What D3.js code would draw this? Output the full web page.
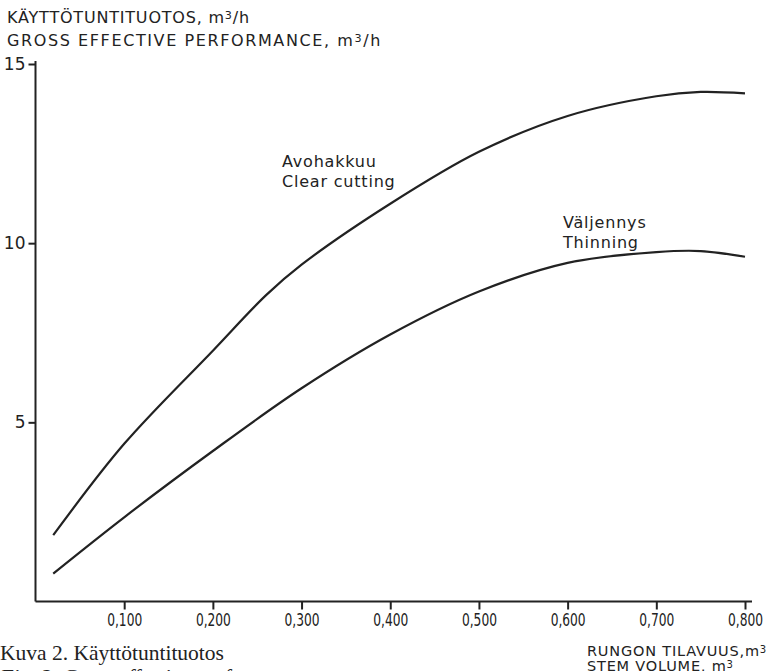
<!DOCTYPE html>
<html>
<head>
<meta charset="utf-8">
<script src="https://cdn.jsdelivr.net/npm/d3@7"></script>
<style>
  body { margin: 0; background: #fff; }
  svg text { fill: #222; }
  .letter { font-family: "DejaVu Sans", sans-serif; }
  .serif { font-family: "Liberation Serif", serif; }
</style>
</head>
<body>
<div id="chart"></div>
<script>
// Stem volume (m3) and gross effective performance (m3/h)
const stemVolume = [0.02, 0.1, 0.2, 0.26, 0.3, 0.4, 0.5, 0.6, 0.7, 0.75, 0.8];
const clearCutting = [1.85, 4.4, 7.0, 8.55, 9.4, 11.1, 12.55, 13.55, 14.1, 14.22, 14.18];
const thinningVolume = [0.02, 0.1, 0.2, 0.3, 0.4, 0.5, 0.6, 0.7, 0.75, 0.8];
const thinning = [0.78, 2.35, 4.2, 5.95, 7.45, 8.65, 9.45, 9.75, 9.78, 9.62];

const xTicks = [0.1, 0.2, 0.3, 0.4, 0.5, 0.6, 0.7, 0.8];
const yTicks = [5, 10, 15];

const width = 767, height = 671;

const svg = d3.select("#chart")
    .append("svg")
    .attr("width", width)
    .attr("height", height);

const x = d3.scaleLinear().domain([0, 0.8]).range([35.5, 745]);
const y = d3.scaleLinear().domain([0, 15]).range([601.5, 64]);

// Axes
const xAxis = d3.axisBottom(x)
    .tickValues(xTicks)
    .tickSize(8)
    .tickSizeOuter(0)
    .tickFormat(d => d3.format(".3f")(d).replace(".", ","));

const gx = svg.append("g")
    .attr("transform", `translate(0,${y(0)})`)
    .call(xAxis);
gx.select(".domain").attr("d", `M${x(0)},0H752`);

const yAxis = d3.axisLeft(y)
    .tickValues(yTicks)
    .tickSize(7)
    .tickSizeOuter(0);

const gy = svg.append("g")
    .attr("transform", `translate(${x(0)},0)`)
    .call(yAxis);
gy.select(".domain").attr("d", `M0,${y(15) - 3}V${y(0)}`);

svg.selectAll(".domain, .tick line")
    .attr("stroke", "#222")
    .attr("stroke-width", 2);

// condensed stencil-like tick numbers
gx.selectAll(".tick text")
    .attr("class", "letter")
    .attr("dy", "0.76em")
    .attr("textLength", 35)
    .attr("lengthAdjust", "spacingAndGlyphs")
    .style("font-size", "18px");
gy.selectAll(".tick text")
    .attr("class", "letter")
    .attr("dx", "0px")
    .style("font-size", "17px");

// Curves
const line = d3.line()
    .x(d => x(d[0]))
    .y(d => y(d[1]))
    .curve(d3.curveCatmullRom.alpha(0.5));

svg.append("path")
    .datum(d3.zip(stemVolume, clearCutting))
    .attr("d", line)
    .attr("fill", "none")
    .attr("stroke", "#222")
    .attr("stroke-width", 2.2);

svg.append("path")
    .datum(d3.zip(thinningVolume, thinning))
    .attr("d", line)
    .attr("fill", "none")
    .attr("stroke", "#222")
    .attr("stroke-width", 2.2);

// Texts
function label(txt, px, py, size, spacing) {
    return svg.append("text")
        .attr("class", "letter")
        .attr("x", px)
        .attr("y", py)
        .style("font-size", size + "px")
        .style("letter-spacing", (spacing || 0) + "px")
        .html(txt);
}

const sup = '<tspan baseline-shift="35%" font-size="70%">3</tspan>';

label("KÄYTTÖTUNTITUOTOS, m" + sup + "/h", 7, 23, 16, 0.8);
label("GROSS EFFECTIVE PERFORMANCE, m" + sup + "/h", 7, 46, 16, 1.6);

label("Avohakkuu", 282, 167, 16, 0.8);
label("Clear cutting", 282, 187, 16, 0.8);
label("Väljennys", 563, 228, 16, 0.8);
label("Thinning", 563, 248, 16, 0.8);

label("RUNGON TILAVUUS,m" + sup, 587, 656, 14.5, 0.8);
label("STEM VOLUME, m" + sup, 587, 671, 14.5, 0.8);

svg.append("text")
    .attr("class", "serif")
    .attr("x", 0)
    .attr("y", 660)
    .style("font-size", "21.5px")
    .text("Kuva 2. Käyttötuntituotos");

svg.append("text")
    .attr("class", "serif")
    .attr("x", 0)
    .attr("y", 684)
    .style("font-size", "21.5px")
    .style("font-style", "italic")
    .text("Fig. 2. Gross effective performance.");
</script>
</body>
</html>
